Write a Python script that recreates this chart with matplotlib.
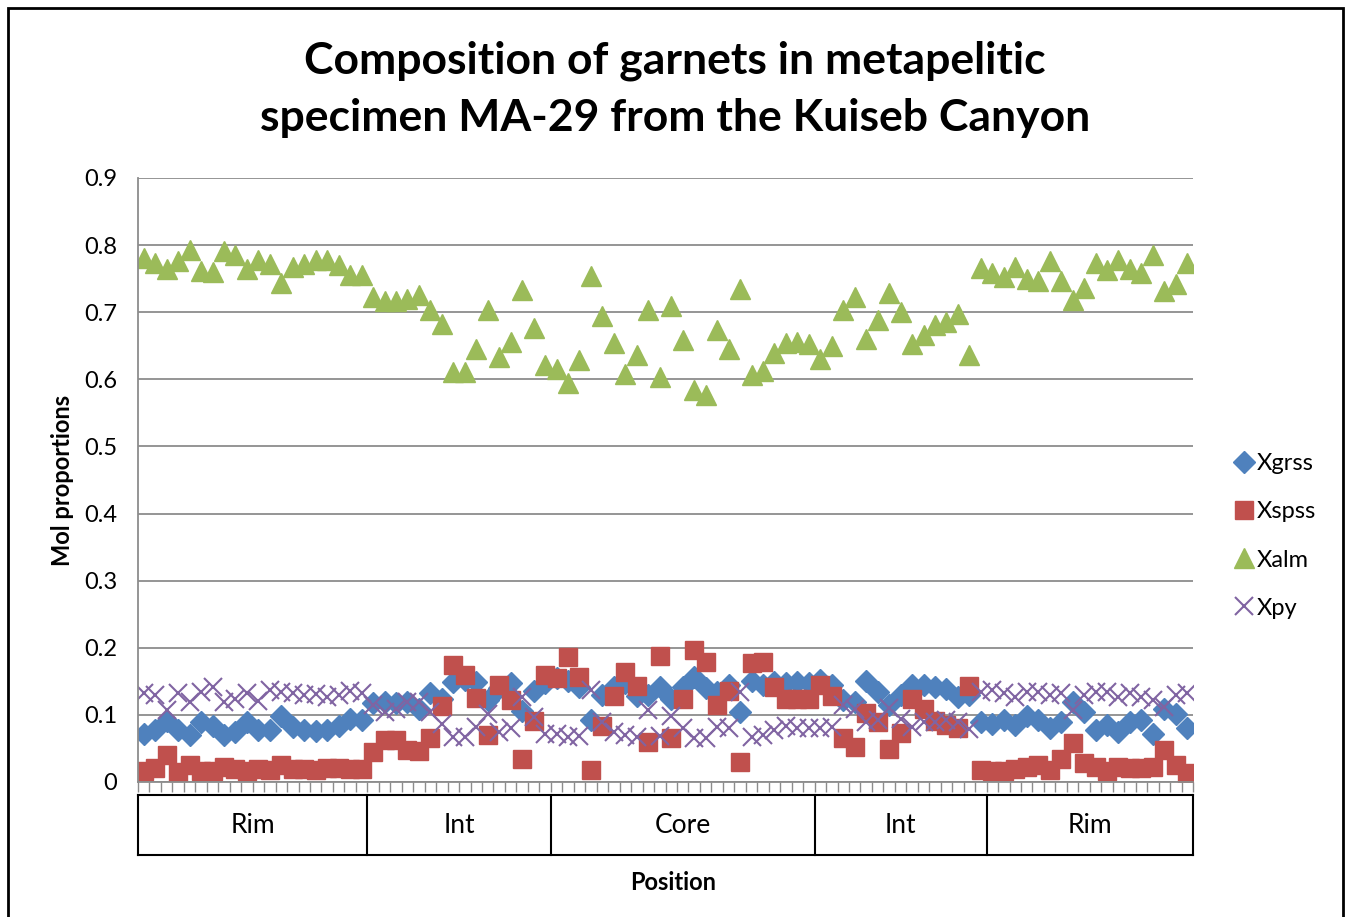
import matplotlib.pyplot as plt
from matplotlib.patches import Rectangle
import matplotlib.transforms as mtransforms

# garnet end-member fractions along the traverse, one value per analysis spot
xgrss = [0.071, 0.078, 0.091, 0.077, 0.070, 0.089, 0.084, 0.070, 0.075, 0.089,
         0.078, 0.077, 0.099, 0.082, 0.078, 0.076, 0.077, 0.084, 0.094, 0.093,
         0.117, 0.119, 0.117, 0.119, 0.109, 0.132, 0.124, 0.149, 0.152, 0.149,
         0.122, 0.140, 0.147, 0.106, 0.136, 0.147, 0.155, 0.150, 0.142, 0.092,
         0.130, 0.141, 0.148, 0.128, 0.130, 0.141, 0.124, 0.141, 0.156, 0.140,
         0.134, 0.144, 0.105, 0.151, 0.144, 0.149, 0.147, 0.149, 0.147, 0.152,
         0.144, 0.122, 0.119, 0.151, 0.134, 0.114, 0.129, 0.144, 0.144, 0.142,
         0.138, 0.127, 0.130, 0.090, 0.086, 0.093, 0.085, 0.099, 0.092, 0.080,
         0.090, 0.119, 0.104, 0.077, 0.085, 0.075, 0.090, 0.092, 0.072, 0.109,
         0.101, 0.080]
xspss = [0.017, 0.021, 0.040, 0.015, 0.025, 0.017, 0.016, 0.022, 0.020, 0.017,
         0.020, 0.018, 0.026, 0.020, 0.020, 0.018, 0.021, 0.021, 0.019, 0.019,
         0.045, 0.062, 0.063, 0.047, 0.046, 0.066, 0.113, 0.174, 0.160, 0.125,
         0.070, 0.145, 0.122, 0.035, 0.091, 0.160, 0.155, 0.186, 0.157, 0.018,
         0.083, 0.128, 0.164, 0.143, 0.059, 0.188, 0.066, 0.124, 0.196, 0.179,
         0.114, 0.136, 0.030, 0.178, 0.179, 0.141, 0.124, 0.124, 0.124, 0.144,
         0.128, 0.066, 0.052, 0.103, 0.089, 0.049, 0.073, 0.123, 0.109, 0.091,
         0.085, 0.081, 0.143, 0.018, 0.016, 0.017, 0.019, 0.022, 0.025, 0.018,
         0.034, 0.058, 0.029, 0.022, 0.016, 0.022, 0.021, 0.021, 0.023, 0.048,
         0.025, 0.014]
xalm = [0.781, 0.773, 0.764, 0.776, 0.792, 0.762, 0.760, 0.791, 0.786, 0.764,
        0.778, 0.772, 0.744, 0.768, 0.772, 0.778, 0.778, 0.770, 0.755, 0.755,
        0.723, 0.717, 0.717, 0.720, 0.726, 0.703, 0.682, 0.611, 0.611, 0.645,
        0.704, 0.634, 0.656, 0.733, 0.676, 0.621, 0.615, 0.595, 0.629, 0.754,
        0.694, 0.654, 0.608, 0.636, 0.704, 0.604, 0.709, 0.659, 0.584, 0.577,
        0.673, 0.645, 0.734, 0.606, 0.612, 0.639, 0.654, 0.655, 0.652, 0.630,
        0.650, 0.703, 0.723, 0.660, 0.688, 0.728, 0.701, 0.652, 0.666, 0.681,
        0.686, 0.698, 0.636, 0.766, 0.759, 0.752, 0.768, 0.749, 0.746, 0.777,
        0.746, 0.718, 0.736, 0.773, 0.763, 0.778, 0.764, 0.759, 0.785, 0.732,
        0.742, 0.773]
xpy = [0.132, 0.129, 0.107, 0.132, 0.119, 0.134, 0.142, 0.119, 0.124, 0.133,
       0.121, 0.137, 0.134, 0.132, 0.129, 0.131, 0.127, 0.129, 0.136, 0.132,
       0.115, 0.104, 0.109, 0.119, 0.119, 0.104, 0.087, 0.067, 0.067, 0.082,
       0.102, 0.075, 0.081, 0.127, 0.097, 0.072, 0.072, 0.067, 0.069, 0.137,
       0.090, 0.075, 0.070, 0.067, 0.107, 0.068, 0.099, 0.080, 0.065, 0.065,
       0.082, 0.080, 0.134, 0.067, 0.070, 0.077, 0.084, 0.081, 0.080, 0.080,
       0.082, 0.114, 0.109, 0.089, 0.092, 0.111, 0.094, 0.082, 0.089, 0.090,
       0.092, 0.090, 0.079, 0.134, 0.137, 0.132, 0.127, 0.134, 0.134, 0.129,
       0.132, 0.107, 0.129, 0.134, 0.134, 0.127, 0.132, 0.127, 0.122, 0.112,
       0.129, 0.132]

zones = ["Rim", "Int", "Core", "Int", "Rim"]
zone_sizes = [20, 16, 23, 15, 18]

plt.rcParams['font.family'] = ['Lato', 'DejaVu Sans']

fig = plt.figure(figsize=(13.49, 9.17), dpi=100)
ax = fig.add_axes([138 / 1349, 1 - 782 / 917, (1193 - 138) / 1349, (782 - 178) / 917])

pos = list(range(len(xalm)))
ax.plot(pos, xgrss, ls='none', marker='D', ms=11, color='#4F81BD', label='Xgrss')
ax.plot(pos, xspss, ls='none', marker='s', ms=13, color='#C0504D', label='Xspss')
ax.plot(pos, xalm, ls='none', marker='^', ms=15, color='#9BBB59', label='Xalm')
ax.plot(pos, xpy, ls='none', marker='x', ms=13, mew=1.5, color='#8064A2', label='Xpy')

ax.set_xlim(-0.5, len(pos) - 0.5)
ax.set_ylim(0, 0.9)
ax.set_yticks([i / 10 for i in range(10)])
ax.set_yticklabels(['0'] + [f'{i / 10:.1f}' for i in range(1, 10)])
ax.tick_params(axis='y', labelsize=17, length=0, pad=15)
ax.grid(axis='y', color='#8c8c8c', lw=1.3)
ax.set_axisbelow(True)
for s in ['top', 'right']:
    ax.spines[s].set_visible(False)
for s in ['left', 'bottom']:
    ax.spines[s].set_color('#8c8c8c')
    ax.spines[s].set_linewidth(1.3)

# tick marks sit between categories
ax.set_xticks([i - 0.5 for i in range(len(pos) + 1)])
ax.set_xticklabels([])
ax.tick_params(axis='x', length=7, color='#8c8c8c', width=1)

ax.set_ylabel('Mol proportions', fontsize=17, fontweight='bold', labelpad=7)

# grouped category boxes under the axis
trans = mtransforms.blended_transform_factory(ax.transData, ax.transAxes)
y_top, y_bot = -0.0215, -0.121
edges = [-0.5]
for n in zone_sizes:
    edges.append(edges[-1] + n)
ax.plot([edges[0], edges[-1]], [y_top, y_top], color='black', lw=1.5, transform=trans, clip_on=False)
ax.plot([edges[0], edges[-1]], [y_bot, y_bot], color='black', lw=1.5, transform=trans, clip_on=False)
for e in edges:
    ax.plot([e, e], [y_top, y_bot], color='black', lw=1.5, transform=trans, clip_on=False)
for name, a, b in zip(zones, edges[:-1], edges[1:]):
    ax.text((a + b) / 2, (y_top + y_bot) / 2, name, transform=trans, ha='center', va='center', fontsize=19)

fig.text(673 / 1349, 1 - 883 / 917, 'Position', ha='center', va='center', fontsize=17, fontweight='bold')

fig.text(675 / 1349, 1 - 89 / 917,
         'Composition of garnets in metapelitic\nspecimen MA-29 from the Kuiseb Canyon',
         ha='center', va='center', fontsize=32, fontweight='bold', linespacing=1.5)

fig.legend(loc='center left', bbox_to_anchor=(1223 / 1349, 1 - 536 / 917), frameon=False,
           fontsize=17, handlelength=0.8, handletextpad=0.15, labelspacing=1.15, borderpad=0)

fig.add_artist(Rectangle((8 / 1349, -0.02), 1335 / 1349, 1.02 - 8 / 917, transform=fig.transFigure,
                         fill=False, edgecolor='black', lw=2))

fig.savefig('out.png', dpi=100)
